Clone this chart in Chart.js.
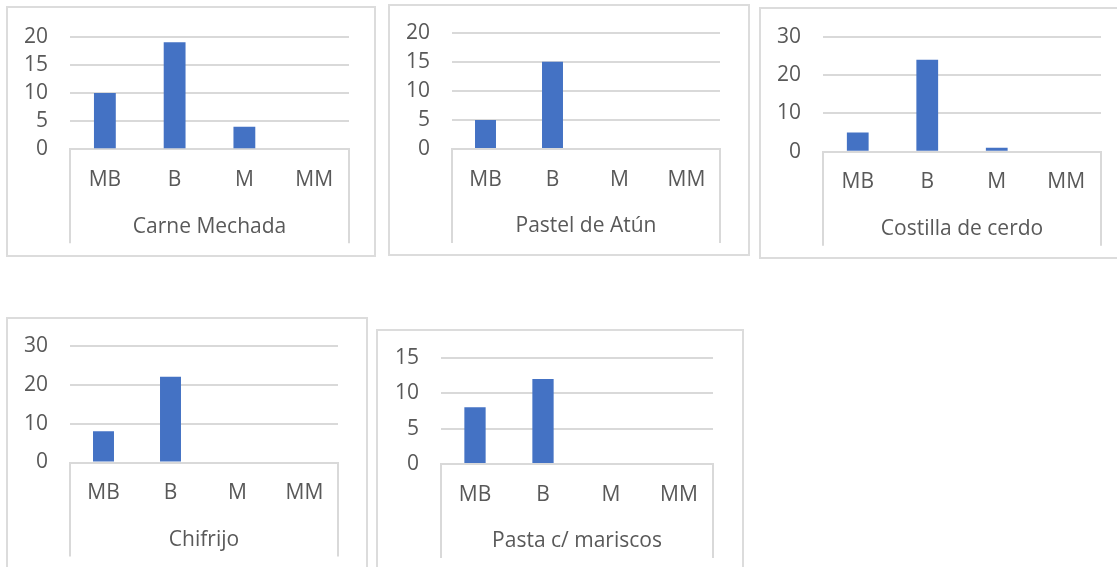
<!DOCTYPE html>
<html>
<head>
<meta charset="utf-8">
<script src="https://cdn.jsdelivr.net/npm/chart.js@4.4.1/dist/chart.umd.min.js"></script>
<style>
  html, body { margin: 0; padding: 0; background: #ffffff; overflow: hidden; }
  body { width: 1117px; height: 567px; position: relative; }
  .panel { position: absolute; box-sizing: border-box; border: 2px solid #dcdcdc; background: #ffffff; }
  .panel canvas { position: absolute; left: 0; top: 0; }
</style>
</head>
<body>
<script>
// Rating categories shared by every dish
const categories = ['MB', 'B', 'M', 'MM'];

// Dish names (outer category label of each chart)
const dishes = ['Carne Mechada', 'Pastel de Atún', 'Costilla de cerdo', 'Chifrijo', 'Pasta c/ mariscos'];

// Votes per rating, one array per dish
const carneMechada     = [10, 19, 4, 0];
const pastelDeAtun     = [5, 15, 0, 0];
const costillaDeCerdo  = [5, 24, 1, 0];
const chifrijo         = [8, 22, 0, 0];
const pastaMariscos    = [8, 12, 0, 0];
const seriesValues = [carneMechada, pastelDeAtun, costillaDeCerdo, chifrijo, pastaMariscos];

// Value axis range per chart
const axisMax  = [20, 20, 30, 30, 15];
const axisStep = [5, 5, 10, 10, 5];

// Page layout: outer frame box and plot rectangle of each chart (px)
const frames = [
  { x: 6,   y: 6,   w: 370, h: 251 },
  { x: 388, y: 4,   w: 362, h: 252 },
  { x: 759, y: 7,   w: 380, h: 252 },
  { x: 6,   y: 317, w: 362, h: 290 },
  { x: 376, y: 329, w: 368, h: 280 }
];
const plots = [
  { l: 70,  t: 36.7,  r: 349,  b: 149.3 },
  { l: 452, t: 32.7,  r: 720,  b: 149   },
  { l: 823, t: 36.7,  r: 1101, b: 151.7 },
  { l: 70,  t: 345.7, r: 338,  b: 462.5 },
  { l: 441, t: 357.7, r: 713,  b: 464   }
];

const Y_AXIS_W = 50;
const X_AXIS_H = 94;
const TEXT = '#595959';
const GRID = '#d9d9d9';
const BAR = '#4472C4';
const FONT = "'Open Sans', 'Liberation Sans', sans-serif";
const FONT_SIZE = 21;

// Draws the category-axis side lines that frame the two label rows
const categoryFrame = {
  id: 'categoryFrame',
  afterDraw(chart) {
    const x = chart.scales.x;
    const ctx = chart.ctx;
    ctx.save();
    ctx.strokeStyle = GRID;
    ctx.lineWidth = 2;
    ctx.beginPath();
    ctx.moveTo(x.left, x.top);
    ctx.lineTo(x.left, x.bottom);
    ctx.moveTo(x.right, x.top);
    ctx.lineTo(x.right, x.bottom);
    ctx.stroke();
    ctx.restore();
  }
};

frames.forEach((f, i) => {
  const p = plots[i];
  const div = document.createElement('div');
  div.className = 'panel';
  div.style.left = f.x + 'px';
  div.style.top = f.y + 'px';
  div.style.width = f.w + 'px';
  div.style.height = f.h + 'px';
  document.body.appendChild(div);

  const canvas = document.createElement('canvas');
  canvas.width = f.w;
  canvas.height = f.h;
  canvas.style.width = f.w + 'px';
  canvas.style.height = f.h + 'px';
  // canvas sits in the frame's padding box, offset by the border
  canvas.style.left = '-2px';
  canvas.style.top = '-2px';
  div.appendChild(canvas);

  const padding = {
    left: p.l - f.x - Y_AXIS_W,
    top: p.t - f.y,
    right: f.x + f.w - p.r,
    bottom: f.y + f.h - (p.b + X_AXIS_H)
  };

  new Chart(canvas, {
    type: 'bar',
    data: {
      labels: categories,
      datasets: [{
        data: seriesValues[i],
        backgroundColor: BAR,
        borderWidth: 0,
        barPercentage: 0.313,
        categoryPercentage: 1
      }]
    },
    options: {
      responsive: false,
      animation: false,
      events: [],
      layout: { padding },
      plugins: { legend: { display: false }, tooltip: { enabled: false } },
      scales: {
        x: {
          grid: { display: false, drawTicks: false },
          border: { display: true, color: GRID, width: 2 },
          ticks: { color: TEXT, font: { family: FONT, size: FONT_SIZE }, padding: 18, maxRotation: 0, autoSkip: false },
          title: { display: true, text: dishes[i], color: TEXT, font: { family: FONT, size: FONT_SIZE }, padding: { top: 0, bottom: 4 } },
          afterFit(axis) { axis.height = X_AXIS_H; }
        },
        y: {
          min: 0,
          max: axisMax[i],
          grid: { color: GRID, lineWidth: 2, drawTicks: false },
          border: { display: false },
          ticks: { stepSize: axisStep[i], autoSkip: false, color: TEXT, font: { family: FONT, size: FONT_SIZE }, padding: 22 },
          afterFit(axis) {
            axis.width = Y_AXIS_W;
            // the layout padding already leaves room for the top label
            axis.paddingTop = 0;
            axis.paddingBottom = 0;
          }
        }
      }
    },
    plugins: [categoryFrame]
  });
});
</script>
</body>
</html>
